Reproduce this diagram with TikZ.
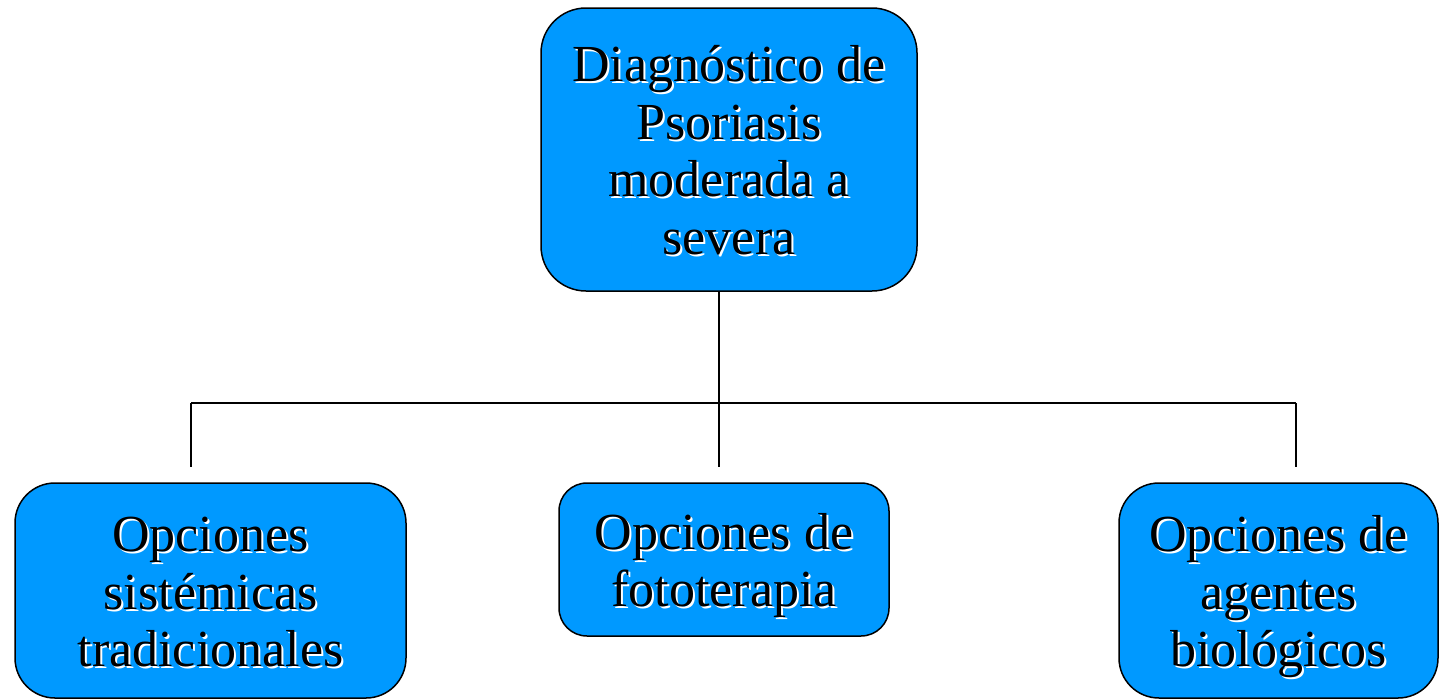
\documentclass[tikz,border=0pt]{standalone}
\usepackage{fontspec}
\setmainfont{Liberation Serif}
\usetikzlibrary{calc}

\definecolor{azul}{RGB}{0,153,255}
\newcommand\pila[1]{\raisebox{-8pt}[\height][\depth]{\begin{tabular}{@{}c@{}}#1\end{tabular}}}
\newcommand\sombra[1]{\leavevmode\rlap{\hspace{2pt}\raisebox{-2pt}{\color{white}\pila{#1}}}\pila{#1}}

\tikzset{
	caja/.style={draw=black, fill=azul, line width=1.5pt, rounded corners=40pt, inner sep=0pt,
		font=\fontsize{52}{57.5}\selectfont}
}

\begin{document}
\begin{tikzpicture}[line width=1.5pt, x=1pt, y=-1pt]
\useasboundingbox (0,0) rectangle (1439,699);

% CAJAS
\node[caja, minimum width=376, minimum height=283, rounded corners=45pt] (diag) at (729,149.5)
	{\sombra{Diagnóstico de\\Psoriasis\\moderada a\\severa}};
\node[caja, minimum width=391, minimum height=215] (sist) at (210.5,590.5)
	{\sombra{Opciones\\sistémicas\\tradicionales}};
\node[caja, minimum width=330, minimum height=153, rounded corners=28pt] (foto) at (724,559.5)
	{\sombra{Opciones de\\fototerapia}};
\node[caja, minimum width=319, minimum height=215] (bio) at (1278.5,590.5)
	{\sombra{Opciones de\\agentes\\biológicos}};

% LINEAS
\coordinate (j) at (719,403);
\coordinate (jl) at (191,403);
\coordinate (jr) at (1296,403);
\coordinate (dl) at (191,467);
\coordinate (dm) at (719,467);
\coordinate (dr) at (1296,467);

\draw (j |- diag.south)--(j);
\draw (jl)--(jr);
\draw (jl)--(dl);
\draw (j)--(dm);
\draw (jr)--(dr);

\end{tikzpicture}
\end{document}
